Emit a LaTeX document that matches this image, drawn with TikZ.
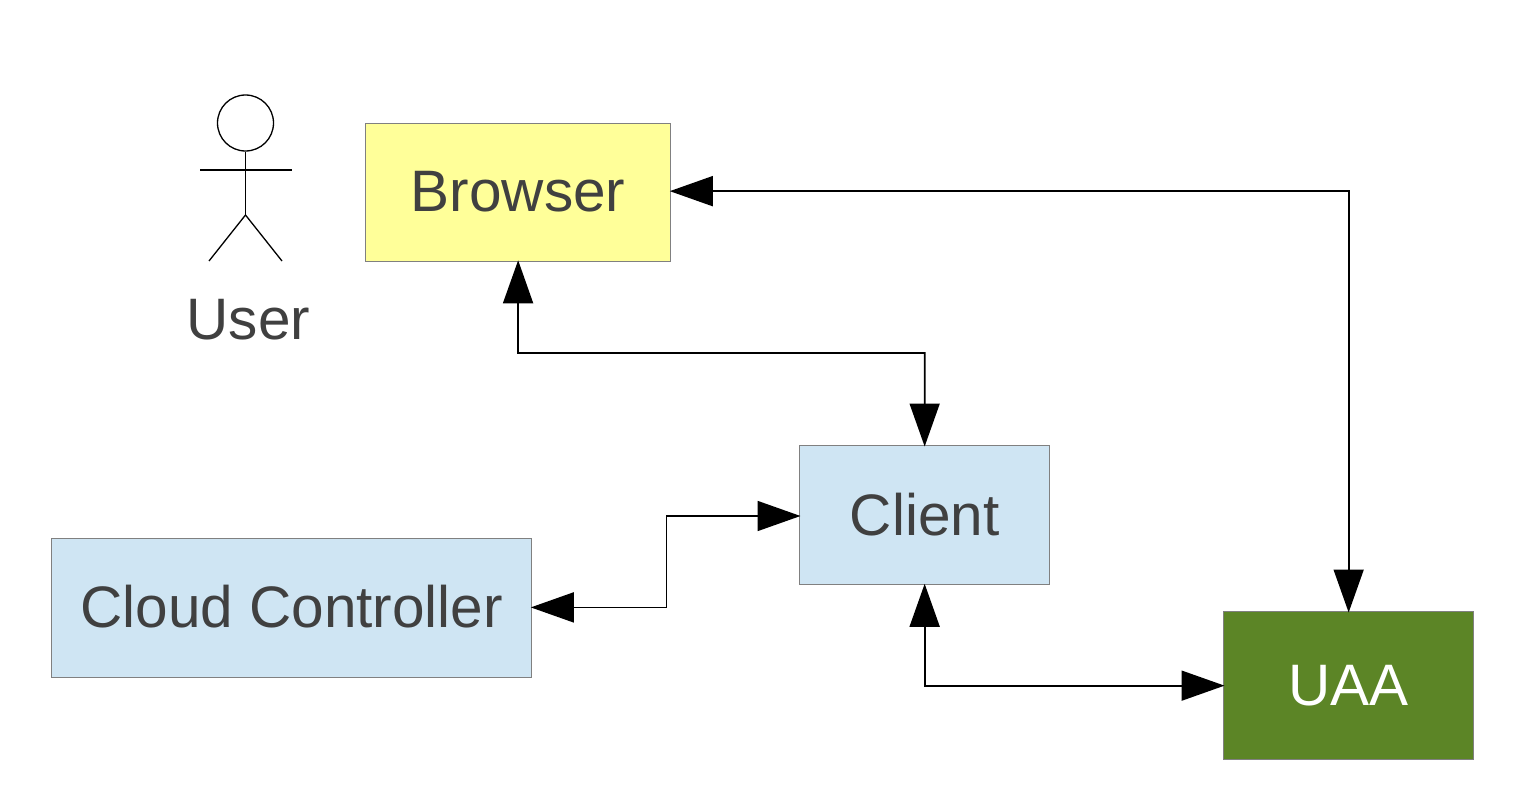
\documentclass[tikz,border=0pt]{standalone}
\usepackage{fontspec}
\setmainfont{Liberation Sans}
\usetikzlibrary{arrows.meta,calc}
\tikzset{
  boxs/.style={draw=black!50,line width=1.3pt,anchor=north west,inner sep=0pt,text=black!75,font=\fontsize{58.5}{58.5}\selectfont},
  link/.style={draw=black,line width=1.7pt,shorten <=-1.5pt,shorten >=-1.5pt,{Triangle[length=43pt,width=30pt]}-{Triangle[length=43pt,width=30pt]}},
  actor/.style={draw=black,line width=1.3pt}
}
\definecolor{paleblue}{HTML}{CFE5F3}
\definecolor{paleyellow}{HTML}{FFFF99}
\definecolor{uaagreen}{HTML}{5C8526}
\begin{document}
\begin{tikzpicture}[x=1pt,y=-1pt]
\useasboundingbox (0,0) rectangle (1524,792);
\node[boxs,fill=paleyellow,minimum width=305pt,minimum height=138pt] (browser) at (365,122.5) {Browser};
\node[boxs,fill=paleblue,minimum width=250pt,minimum height=139pt] (client) at (799,445) {\raisebox{2pt}{Client}};
\node[boxs,fill=paleblue,minimum width=480pt,minimum height=138.5pt] (cc) at (51,538) {\raisebox{4pt}{Cloud Controller}};
\node[boxs,fill=uaagreen,text=white,minimum width=250pt,minimum height=148pt] (uaa) at (1223,611) {UAA};
\node[text=black!75,font=\fontsize{58.5}{58.5}\selectfont,inner sep=0pt] (user) at (248.5,319.5) {User};
\node[draw=black,line width=1.3pt,circle,minimum size=56pt,inner sep=0pt] (head) at (245.5,123) {};
\coordinate (hip) at (245.5,215);
\coordinate (la) at (200,170); \coordinate (ra) at (292,170);
\coordinate (ll) at (209,261); \coordinate (rl) at (282,261);
\draw[actor] (head.south) -- (hip);
\draw[actor] (la) -- (ra);
\draw[actor] (ll) -- (hip) -- (rl);
\draw[link] ([yshift=1pt]browser.east) -- ([yshift=1pt]browser.east -| uaa.north) -- (uaa.north);
\coordinate (m1) at (518,353);
\draw[link] (browser.south) -- (m1) -- (m1 -| client.north) -- (client.north);
\coordinate (m2) at (666.5,516);
\draw[link] ([yshift=.5pt]cc.east) -- ([yshift=.5pt]cc.east -| m2) -- (m2) -- (m2 -| client.west);
\draw[link] (client.south) -- (client.south |- uaa.west) -- (uaa.west);
\end{tikzpicture}
\end{document}
